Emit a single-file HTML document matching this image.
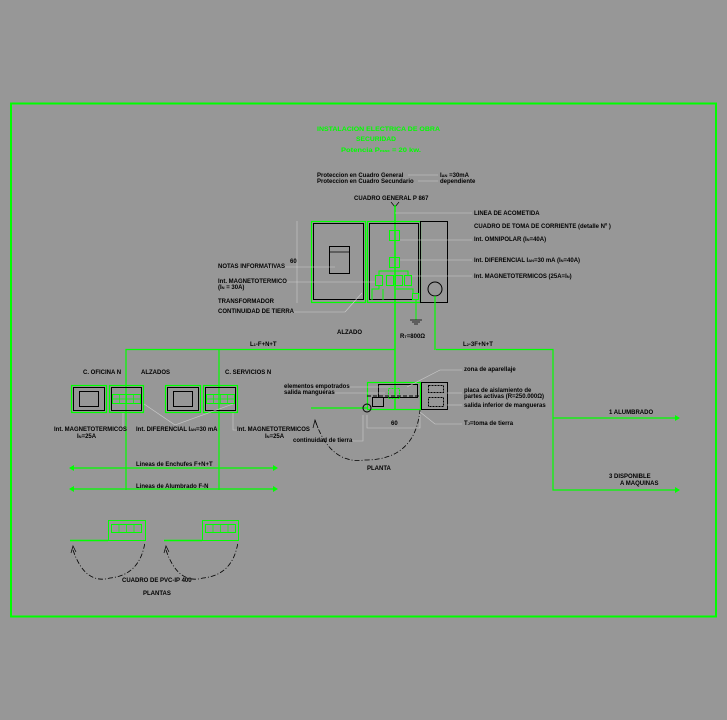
<!DOCTYPE html>
<html><head><meta charset="utf-8"><style>
html,body{margin:0;padding:0;background:#979797;}
svg{display:block}
text{font-family:"Liberation Sans",sans-serif;font-size:6px;fill:#000;font-weight:bold}
.g{fill:#00ff00}
</style></head><body>
<svg width="727" height="720" viewBox="0 0 727 720" xmlns="http://www.w3.org/2000/svg">
<rect x="0" y="0" width="727" height="720" fill="#979797"/>
<rect x="11" y="103.5" width="705" height="513" fill="none" stroke="#00ff00" stroke-width="2"/>
<!-- titles -->
<text x="317" y="131" class="g" font-size="7" textLength="123" lengthAdjust="spacingAndGlyphs">INSTALACION ELECTRICA DE OBRA</text>
<text x="356" y="141" class="g" font-size="7" textLength="40" lengthAdjust="spacingAndGlyphs">SECURIDAD</text>
<text x="341" y="152" class="g" font-size="6.5" textLength="80" lengthAdjust="spacingAndGlyphs">Potencia P<tspan font-size="4">max</tspan> = 20 kw.</text>
<text x="317" y="177">Proteccion en Cuadro General</text>
<text x="317" y="183">Proteccion en Cuadro Secundario</text>
<line x1="408" y1="175" x2="438" y2="175" stroke="#ccc" stroke-width="0.6"/>
<line x1="418" y1="181" x2="438" y2="181" stroke="#ccc" stroke-width="0.6"/>
<text x="440" y="177">I<tspan font-size="4">ΔN</tspan> =30mA</text>
<text x="440" y="183">dependiente</text>
<text x="354" y="200">CUADRO  GENERAL  P 867</text>
<path d="M391 202 L395 207 L399 202" stroke="#000" fill="none" stroke-width="0.7"/>
<!-- main vertical -->
<line x1="395" y1="205" x2="395" y2="410" stroke="#00ff00" stroke-width="1.5"/>
<!-- alzado boxes -->
<line x1="297" y1="221" x2="297" y2="303" stroke="#ccc" stroke-width="0.6"/>
<rect x="311.5" y="221.5" width="54" height="81" fill="none" stroke="#00ff00" stroke-width="1.2"/>
<rect x="313.5" y="223.5" width="50" height="76" fill="none" stroke="#000" stroke-width="1"/>
<rect x="329.5" y="246.5" width="20" height="27" fill="none" stroke="#000" stroke-width="1"/>
<line x1="329.5" y1="252" x2="349.5" y2="252" stroke="#000" stroke-width="0.8"/>
<rect x="367.5" y="221.5" width="53" height="81" fill="none" stroke="#00ff00" stroke-width="1.2"/>
<rect x="369.5" y="223.5" width="49" height="76" fill="none" stroke="#000" stroke-width="1"/>
<rect x="420.5" y="221.5" width="27" height="81" fill="none" stroke="#000" stroke-width="1"/>
<circle cx="435" cy="289" r="7" fill="none" stroke="#000" stroke-width="1"/>
<g stroke="#00ff00" stroke-width="1" fill="none">
<rect x="389.5" y="230.5" width="10" height="10"/>
<rect x="389.5" y="257.5" width="10" height="10"/>
<rect x="375.5" y="275.5" width="7" height="10"/>
<rect x="386.5" y="275.5" width="7" height="10"/>
<rect x="395.5" y="275.5" width="7" height="10"/>
<rect x="404.5" y="275.5" width="7" height="10"/>
<path d="M379 275 V271 H408 V275 M379 285 V289 H372 V300 M396 289 H413 V293 M383 289 V300"/>
<rect x="412.5" y="293.5" width="6" height="6"/>
<line x1="416" y1="300" x2="416" y2="320"/>
</g>
<line x1="435" y1="296" x2="435" y2="350" stroke="#00ff00" stroke-width="1.2"/>
<path d="M410 320 H422 M412 322 H420 M414 324 H418" stroke="#000" stroke-width="0.7"/>
<!-- right labels -->
<g stroke="#ccc" stroke-width="0.6">
<line x1="395" y1="213" x2="472" y2="213"/><line x1="400" y1="240" x2="472" y2="240"/>
<line x1="400" y1="260" x2="472" y2="260"/><line x1="412" y1="276" x2="472" y2="276"/>
<line x1="240" y1="267" x2="335" y2="267"/><line x1="260" y1="282" x2="375" y2="282"/>
<line x1="290" y1="312" x2="345" y2="312"/><line x1="345" y1="312" x2="362" y2="293"/>
</g>
<text x="474" y="215">LINEA DE ACOMETIDA</text>
<text x="474" y="228">CUADRO DE TOMA DE CORRIENTE (detalle Nº )</text>
<text x="474" y="241">Int. OMNIPOLAR (I<tspan font-size="4">N</tspan>=40A)</text>
<text x="474" y="262">Int. DIFERENCIAL I<tspan font-size="4">ΔN</tspan>=30 mA (I<tspan font-size="4">N</tspan>=40A)</text>
<text x="474" y="278">Int. MAGNETOTERMICOS (25A=I<tspan font-size="4">N</tspan>)</text>
<text x="218" y="268">NOTAS INFORMATIVAS</text>
<text x="218" y="283">Int. MAGNETOTERMICO</text>
<text x="218" y="289">(I<tspan font-size="4">N</tspan> = 30A)</text>
<text x="218" y="303">TRANSFORMADOR</text>
<text x="218" y="313">CONTINUIDAD DE TIERRA</text>
<text x="290" y="263">60</text>
<text x="337" y="334">ALZADO</text>
<text x="400" y="338">R<tspan font-size="4">T</tspan>=800Ω</text>
<text x="250" y="346">L<tspan font-size="4">1</tspan>-F+N+T</text>
<text x="463" y="346">L<tspan font-size="4">2</tspan>-3F+N+T</text>
<!-- distribution lines -->
<g stroke="#00ff00" stroke-width="1.2" fill="none">
<path d="M126 490 V349.5 H395"/>
<path d="M219 490 V349.5"/>
<path d="M436 349.5 H553 V490 H675"/>
<path d="M553 418 H675"/>
<path d="M74 468 H273 M74 489 H273"/>
<path d="M311 408 H367"/>
</g>
<g fill="#00ff00">
<path d="M675 415 L680 418 L675 421Z"/><path d="M675 487 L680 490 L675 493Z"/>
<path d="M74 465 L69 468 L74 471Z"/><path d="M273 465 L278 468 L273 471Z"/>
<path d="M74 486 L69 489 L74 492Z"/><path d="M273 486 L278 489 L273 492Z"/>
</g>
<text x="609" y="414">1    ALUMBRADO</text>
<text x="609" y="478">3    DISPONIBLE</text>
<text x="620" y="485">A MAQUINAS</text>
<!-- small alzados -->
<text x="83" y="374">C. OFICINA N</text>
<text x="141" y="374">ALZADOS</text>
<text x="225" y="374">C. SERVICIOS N</text>
<g fill="none">
<rect x="71.5" y="385.5" width="35" height="27" stroke="#00ff00" stroke-width="1.2"/>
<rect x="73.5" y="387.5" width="31" height="23" stroke="#000"/>
<rect x="79.5" y="391.5" width="19" height="15" stroke="#000"/>
<rect x="109.5" y="385.5" width="34" height="27" stroke="#00ff00" stroke-width="1.2"/>
<rect x="111.5" y="387.5" width="30" height="23" stroke="#000"/>
<rect x="112.5" y="394.5" width="28" height="9" stroke="#00ff00"/>
<path d="M119.5 394.5 V403.5 M126.5 394.5 V403.5 M133.5 394.5 V403.5 M112.5 399 H140.5" stroke="#00ff00" stroke-width="0.7"/>
<rect x="165.5" y="385.5" width="35" height="27" stroke="#00ff00" stroke-width="1.2"/>
<rect x="167.5" y="387.5" width="31" height="23" stroke="#000"/>
<rect x="173.5" y="391.5" width="19" height="15" stroke="#000"/>
<rect x="203.5" y="385.5" width="34" height="27" stroke="#00ff00" stroke-width="1.2"/>
<rect x="205.5" y="387.5" width="30" height="23" stroke="#000"/>
<rect x="206.5" y="394.5" width="28" height="9" stroke="#00ff00"/>
<path d="M213.5 394.5 V403.5 M220.5 394.5 V403.5 M227.5 394.5 V403.5 M206.5 399 H234.5" stroke="#00ff00" stroke-width="0.7"/>
</g>
<g stroke="#ccc" stroke-width="0.6" fill="none">
<path d="M123 413 V430 H116"/><path d="M144 404 L175 425 L233 404"/><path d="M233 413 V430 H237"/>
</g>
<text x="54" y="431">Int. MAGNETOTERMICOS</text>
<text x="77" y="438">I<tspan font-size="4">N</tspan>=25A</text>
<text x="136" y="431">Int. DIFERENCIAL I<tspan font-size="4">ΔN</tspan>=30 mA</text>
<text x="237" y="431">Int. MAGNETOTERMICOS</text>
<text x="265" y="438">I<tspan font-size="4">N</tspan>=25A</text>
<text x="136" y="466">Lineas de Enchufes F+N+T</text>
<text x="136" y="488">Lineas de Alumbrado F-N</text>
<!-- plantas -->
<g fill="none" stroke="#00ff00" stroke-width="1">
<rect x="108.5" y="520.5" width="37" height="20"/><rect x="111.5" y="524.5" width="30" height="8"/>
<path d="M119 524.5 V532.5 M126.5 524.5 V532.5 M134 524.5 V532.5" stroke-width="0.7"/>
<rect x="202.5" y="520.5" width="36" height="20"/><rect x="205.5" y="524.5" width="30" height="8"/>
<path d="M213 524.5 V532.5 M220.5 524.5 V532.5 M228 524.5 V532.5" stroke-width="0.7"/>
<path d="M70 540.5 H108 M164 540.5 H202" stroke-width="1.5"/>
</g>
<g fill="none" stroke="#000" stroke-width="0.8" stroke-dasharray="5,2,1,2">
<path d="M73 550 Q85 585 110 578 Q140 575 145 542"/>
<path d="M166 550 Q178 585 203 578 Q233 575 238 542"/>
<path d="M315 420 Q330 465 365 460 Q415 460 420 410"/>
</g>
<path d="M71 553 L73 546 L76 552 M164 553 L166 546 L169 552" stroke="#000" fill="none" stroke-width="0.7"/>
<text x="122" y="582">CUADRO DE PVC-IP 400</text>
<text x="143" y="595">PLANTAS</text>
<!-- planta detail -->
<g fill="none">
<rect x="367.5" y="382.5" width="53" height="27" stroke="#00ff00" stroke-width="1.2"/>
<rect x="378.5" y="384.5" width="39" height="13" stroke="#000"/>
<rect x="372.5" y="397.5" width="11" height="9" stroke="#000"/>
<rect x="388.5" y="388.5" width="11" height="10" stroke="#00ff00" stroke-dasharray="2,1"/>
<rect x="421.5" y="382.5" width="26" height="27" stroke="#000"/>
<rect x="428.5" y="385.5" width="15" height="7" stroke="#000" stroke-dasharray="2,1"/>
<rect x="428.5" y="397.5" width="15" height="9" stroke="#000" stroke-dasharray="2,1"/>
<circle cx="367" cy="408" r="4" stroke="#000"/>
<path d="M367 396 H420" stroke="#000" stroke-dasharray="4,2"/>
</g>
<g stroke="#ccc" stroke-width="0.6" fill="none">
<path d="M407 387 L440 370 H462"/><path d="M447 393 H462"/><path d="M447 405 H462"/>
<path d="M420 412 L435 424 H462"/><path d="M335 387 H390"/><path d="M335 393 H385"/>
<path d="M367 415 V428 H420 V415"/><path d="M350 441 H363 V415"/>
</g>
<text x="464" y="371">zona de aparellaje</text>
<text x="464" y="392">placa de aislamiento de</text>
<text x="464" y="398">partes activas (R=250.000Ω)</text>
<text x="464" y="407">salida inferior de mangueras</text>
<text x="464" y="425">T<tspan font-size="4">J</tspan>=toma de tierra</text>
<text x="284" y="388">elementos empotrados</text>
<text x="284" y="394">salida mangueras</text>
<text x="391" y="425">60</text>
<text x="293" y="442">continuidad de tierra</text>
<text x="367" y="470">PLANTA</text>
<path d="M313 428 L315 420 L318 428" stroke="#000" fill="none" stroke-width="0.7"/>
</svg>
</body></html>
